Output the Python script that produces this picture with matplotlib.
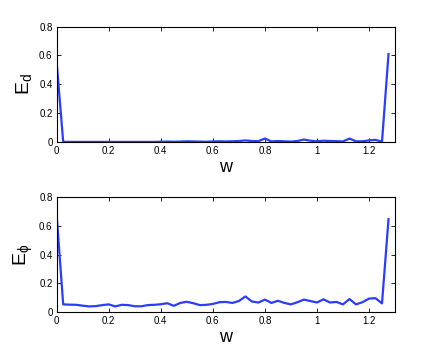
import matplotlib
matplotlib.use("Agg")
import matplotlib.pyplot as plt
import numpy as np
from matplotlib.ticker import FuncFormatter

plt.rcParams['font.family'] = ['Liberation Sans', 'DejaVu Sans']

w = [round(0.025 * i, 3) for i in range(52)]

E_d = [0.55, 0.002, 0.002, 0.002, 0.002, 0.002, 0.002, 0.002, 0.002, 0.002,
       0.002, 0.002, 0.002, 0.002, 0.002, 0.002, 0.003, 0.004, 0.003, 0.004,
       0.006, 0.005, 0.004, 0.003, 0.005, 0.006, 0.005, 0.006, 0.008, 0.012,
       0.008, 0.007, 0.025, 0.005, 0.008, 0.006, 0.004, 0.008, 0.018, 0.010,
       0.006, 0.010, 0.008, 0.007, 0.005, 0.025, 0.006, 0.006, 0.012, 0.016,
       0.003, 0.61]

E_phi = [0.67, 0.055, 0.053, 0.052, 0.046, 0.041, 0.043, 0.050, 0.055, 0.041,
         0.052, 0.050, 0.042, 0.042, 0.050, 0.052, 0.056, 0.063, 0.045, 0.065,
         0.073, 0.063, 0.050, 0.052, 0.058, 0.070, 0.072, 0.065, 0.078, 0.110,
         0.075, 0.068, 0.088, 0.065, 0.080, 0.065, 0.055, 0.070, 0.088, 0.078,
         0.068, 0.090, 0.068, 0.072, 0.055, 0.092, 0.055, 0.070, 0.095, 0.098,
         0.062, 0.645]

xticks = [0, 0.2, 0.4, 0.6, 0.8, 1.0, 1.2]
yticks = [0, 0.2, 0.4, 0.6, 0.8]

fig = plt.figure(figsize=(4.36, 3.59), dpi=100)
ax1 = fig.add_axes([0.130, 0.604, 0.776, 0.322])
ax2 = fig.add_axes([0.130, 0.130, 0.776, 0.322])

fmt = FuncFormatter(lambda v, p: ('%g' % round(v, 2)))

for ax, y, lab in [(ax1, E_d, r'E$_\mathregular{d}$'), (ax2, E_phi, r'E$_\mathregular{\phi}$')]:
    ax.plot(w, y, color='#2a3cff', lw=1.6)
    ax.set_xlim(0, 1.3)
    ax.set_ylim(0, 0.8)
    ax.set_xticks(xticks)
    ax.set_yticks(yticks)
    ax.xaxis.set_major_formatter(fmt)
    ax.yaxis.set_major_formatter(fmt)
    ax.tick_params(direction='in', top=True, right=True, labelsize=7, length=3, width=0.6, pad=3)
    for s in ax.spines.values():
        s.set_linewidth(0.8)
    ax.set_xlabel('w', fontsize=13, labelpad=2)
    ax.set_ylabel(lab, fontsize=14, labelpad=3)

fig.savefig('out.png', dpi=100)
